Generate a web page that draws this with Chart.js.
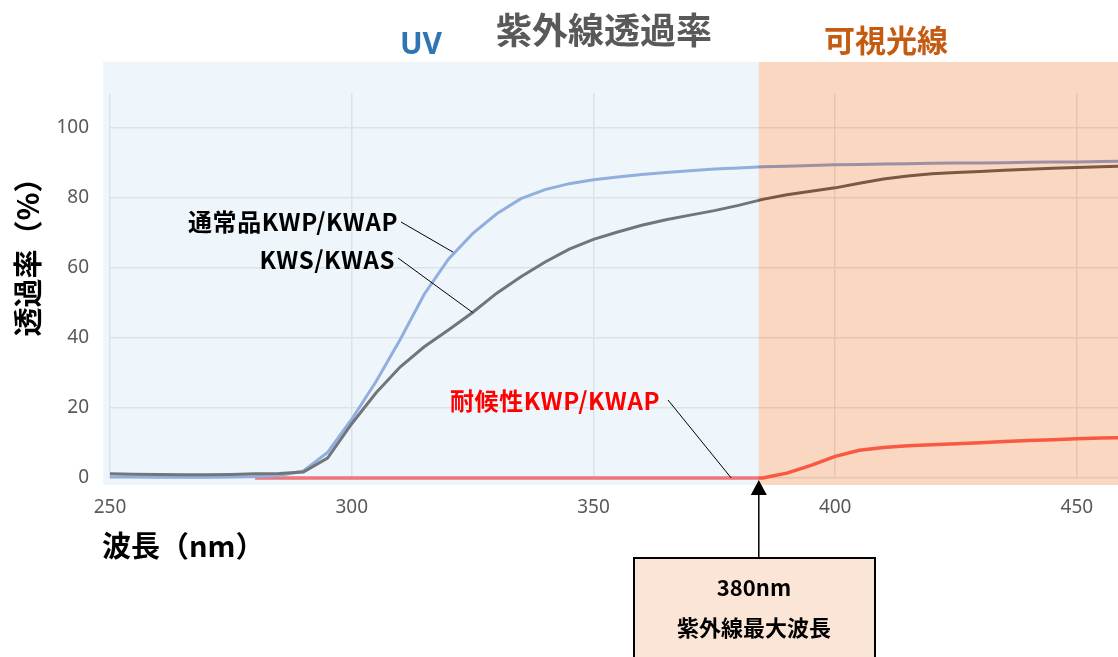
<!DOCTYPE html>
<html><head><meta charset="utf-8">
<script src="https://cdn.jsdelivr.net/npm/chart.js@4/dist/chart.umd.min.js"></script>
<style>html,body{margin:0;padding:0;background:#fff}#wrap{width:1118px;height:657px;position:relative}</style>
</head><body><div id="wrap"><canvas id="c"></canvas></div>
<script>
// ---- data ----
const wavelengths = [250,255,260,265,270,275,280,285,290,295,300,305,310,315,320,325,330,335,340,345,350,355,360,365,370,375,380,385,390,395,400,405,410,415,420,425,430,435,440,445,450,455,460];
const standardKWP = [0.3,0.3,0.2,0.2,0.2,0.3,0.4,0.7,2.0,7.3,16.8,27.5,39.5,52.5,62.5,69.8,75.5,79.8,82.4,84.1,85.2,86.0,86.7,87.3,87.8,88.3,88.6,88.9,89.1,89.3,89.5,89.6,89.7,89.8,89.9,90.0,90.0,90.1,90.2,90.3,90.3,90.4,90.5];
const kwsKWAS = [1.2,1.1,1.0,0.9,0.9,1.0,1.2,1.3,1.7,5.7,15.5,24.3,31.7,37.5,42.3,47.3,52.8,57.5,61.7,65.4,68.2,70.3,72.2,73.8,75.1,76.4,77.9,79.6,80.9,81.9,82.9,84.2,85.4,86.3,86.9,87.3,87.6,87.9,88.2,88.5,88.7,88.9,89.1];
const weatherKWP = [null,null,null,null,null,null,0,0,0,0,0,0,0,0,0,0,0,0,0,0,0,0,0,0,0,0,0,0,1.4,3.6,6.2,7.9,8.7,9.2,9.5,9.8,10.1,10.4,10.7,10.9,11.2,11.4,11.5];
const xTicks = [250,300,350,400,450];
const yTicks = [0,20,40,60,80,100];
const uvLimitNm = 384.2;
const seriesNames = ['KWS/KWAS','通常品KWP/KWAP','耐候性KWP/KWAP'];

const toXY = arr => wavelengths.map((w,i)=>({x:w,y:arr[i]}));
const CJK = "'Noto Sans CJK JP', 'Noto Sans', sans-serif";

function txt(ctx, s, x, y, font, color, align, ls){
  ctx.save(); ctx.font = font; ctx.fillStyle = color; ctx.textAlign = align||'center'; ctx.textBaseline='middle';
  if (ls) ctx.letterSpacing = ls;
  ctx.fillText(s, x, y); ctx.restore();
}
function line(ctx, x1,y1,x2,y2,w,c){ctx.save();ctx.strokeStyle=c||'#000';ctx.lineWidth=w||1;ctx.beginPath();ctx.moveTo(x1,y1);ctx.lineTo(x2,y2);ctx.stroke();ctx.restore();}

const deco = {
  id:'deco',
  beforeDraw(chart){const c=chart.ctx;c.save();c.fillStyle='#fff';c.fillRect(0,0,chart.width,chart.height);c.restore();},
  afterDatasetsDraw(chart){
    const c=chart.ctx, a=chart.chartArea, xs=chart.scales.x;
    const bx = xs.getPixelForValue(uvLimitNm);
    c.save();
    c.fillStyle='rgba(221,235,247,0.5)';
    c.fillRect(a.left-7, a.top-31, bx-(a.left-7), a.bottom+7-(a.top-31));
    c.fillStyle='rgba(244,176,132,0.5)';
    c.fillRect(bx, a.top-31, chart.width-bx, a.bottom+7-(a.top-31));
    c.restore();
  },
  afterDraw(chart){
    const c=chart.ctx, a=chart.chartArea, xs=chart.scales.x, ys=chart.scales.y;
    // titles
    txt(c,'紫外線透過率',604,30,"bold 36px "+CJK,'#595959');
    txt(c,'UV',421,45,"bold 30px 'Noto Sans', sans-serif",'#2e75b6');
    txt(c,'可視光線',886,40,"bold 31px "+CJK,'#c55a11');
    // axis titles
    c.save(); c.translate(28,250); c.rotate(-Math.PI/2);
    txt(c,'透過率（%）',0,0,"bold 29px "+CJK,'#000'); c.restore();
    txt(c,'波長（nm）',102,546,"bold 29px "+CJK,'#000','left');
    // series labels + leaders
    txt(c,seriesNames[1],398,222,"bold 24px "+CJK,'#000','right','0.6px');
    line(c,401,222,xs.getPixelForValue(321),ys.getPixelForValue(64.5));
    txt(c,seriesNames[0],395,260,"bold 24px "+CJK,'#000','right','0.6px');
    line(c,398,258,xs.getPixelForValue(325),ys.getPixelForValue(47.3));
    txt(c,seriesNames[2],660,401,"bold 24px "+CJK,'#ff0000','right','0.6px');
    line(c,668,400,xs.getPixelForValue(378.5),ys.getPixelForValue(0));
    // arrow
    const bx = xs.getPixelForValue(uvLimitNm);
    line(c,bx,a.bottom+14,bx,558,1.5);
    c.save(); c.fillStyle='#000'; c.beginPath(); c.moveTo(bx,a.bottom+2); c.lineTo(bx-8,a.bottom+17); c.lineTo(bx+8,a.bottom+17); c.closePath(); c.fill(); c.restore();
    // box
    c.save(); c.fillStyle='#fbe5d6'; c.strokeStyle='#000'; c.lineWidth=2;
    c.fillRect(634,558,241,110); c.strokeRect(634,558,241,110); c.restore();
    txt(c,'380nm',754,588,"bold 22px "+CJK,'#000');
    txt(c,'紫外線最大波長',754,628,"bold 22px "+CJK,'#000');
  }
};

new Chart(document.getElementById('c'),{
  type:'line',
  data:{datasets:[
    {label:seriesNames[0],data:toXY(kwsKWAS),borderColor:'#000000',borderWidth:3,pointRadius:0,tension:0,clip:false},
    {label:seriesNames[1],data:toXY(standardKWP),borderColor:'#4472c4',borderWidth:3,pointRadius:0,tension:0,clip:false},
    {label:seriesNames[2],data:toXY(weatherKWP),borderColor:'#ff0000',borderWidth:3.5,pointRadius:0,tension:0,spanGaps:false,clip:false}
  ]},
  options:{
    responsive:true, maintainAspectRatio:false, animation:false, devicePixelRatio:1,
    layout:{padding:{top:93,right:0,left:0,bottom:0}},
    plugins:{legend:{display:false},tooltip:{enabled:false},title:{display:false}},
    scales:{
      x:{type:'linear',min:250,max:458.5,
        afterBuildTicks:s=>{s.ticks=xTicks.map(v=>({value:v}));},
        afterFit:s=>{s.height=179;},
        grid:{color:'#d9d9d9',lineWidth:1.5,drawTicks:false},border:{display:false},
        ticks:{color:'#595959',font:{size:19,family:"'Noto Sans', sans-serif"},padding:18,maxRotation:0,autoSkip:false}},
      y:{min:0,max:110,
        afterBuildTicks:s=>{s.ticks=yTicks.map(v=>({value:v}));},
        afterFit:s=>{s.width=110;},
        grid:{color:'#d9d9d9',lineWidth:1.5,drawTicks:false},border:{display:false},
        ticks:{color:'#595959',font:{size:19,family:"'Noto Sans', sans-serif"},padding:21}}
    }
  },
  plugins:[deco]
});
</script></body></html>
